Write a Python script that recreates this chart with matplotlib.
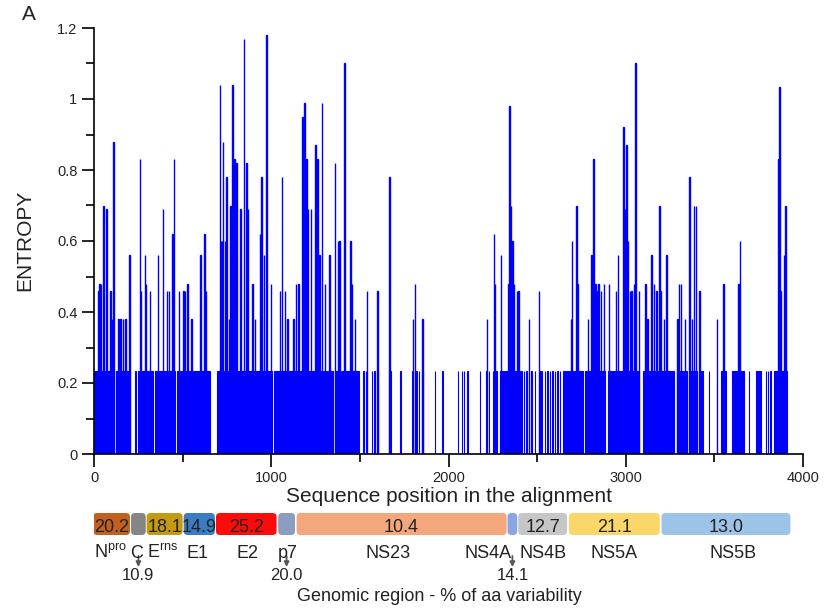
import matplotlib
matplotlib.use("Agg")
import matplotlib.pyplot as plt
from matplotlib.patches import FancyBboxPatch
from matplotlib.ticker import MultipleLocator, FormatStrFormatter

plt.rcParams['font.family'] = ['Liberation Sans', 'DejaVu Sans']
plt.rcParams['mathtext.fontset'] = 'custom'
plt.rcParams['mathtext.rm'] = 'Liberation Sans'
plt.rcParams['mathtext.it'] = 'Liberation Sans:italic'

# ---- entropy data ----
# sites sitting on the lowest entropy level, as runs start..end
base_level = 0.234
base_start = [0, 124, 231, 246, 320, 345, 466, 498, 564, 602, 630,
              692, 1015, 1162, 1307, 1331, 1358, 1396, 1421,
              1519, 1534, 1566, 1581, 1598, 1662, 1729, 1796, 1809, 1819, 1834, 1851,
              1924, 1966, 2054, 2074, 2087, 2106, 2176, 2214, 2227, 2251, 2255, 2261,
              2270, 2289, 2293, 2304, 2312, 2411, 2424, 2438, 2452, 2468, 2486,
              2508, 2524, 2543, 2558, 2571, 2586, 2599, 2614, 2627,
              2645, 2655, 2686, 2714, 2768, 2898, 3098, 3287, 3336, 3355, 3412,
              3468, 3536, 3601, 3638, 3693, 3737, 3789, 3802, 3815, 3835]
base_end = [112, 201, 238, 313, 333, 458, 490, 556, 594, 622, 654,
            1007, 1154, 1299, 1322, 1350, 1386, 1414, 1496,
            1521, 1536, 1568, 1583, 1601, 1674, 1731, 1799, 1812, 1821, 1836, 1854,
            1926, 1968, 2056, 2076, 2089, 2108, 2178, 2217, 2229, 2253, 2257, 2263,
            2272, 2291, 2296, 2306, 2404, 2413, 2426, 2444, 2454, 2470, 2488,
            2514, 2526, 2545, 2560, 2573, 2588, 2601, 2616, 2629,
            2649, 2679, 2706, 2756, 2884, 3072, 3275, 3328, 3347, 3404, 3436,
            3470, 3563, 3632, 3668, 3695, 3762, 3791, 3804, 3817, 3911]

# sites above the lowest level
peak_pos = [25, 30, 38, 53, 68, 91, 100, 109, 138, 147, 162, 175, 198, 257, 264,
            285, 291, 315, 360, 389, 411, 421, 440, 451, 477, 502, 511, 525, 549,
            600, 623, 630,
            709, 715, 720, 726, 738, 747, 760, 770, 781, 792, 802, 826, 845, 858,
            868, 894, 906, 934, 943, 958, 972, 996, 1047, 1058, 1075, 1091, 1125,
            1138, 1151, 1175, 1185, 1196, 1206, 1223, 1247, 1260, 1270, 1285, 1302,
            1326, 1358, 1374, 1383, 1411, 1445, 1453, 1472, 1538, 1599,
            1666, 1797, 1810, 1852, 2215, 2256, 2262, 2294, 2337, 2343, 2350, 2360,
            2369, 2384, 2393, 2453, 2510,
            2690, 2694, 2722, 2726, 2785, 2805, 2818, 2828, 2839, 2845, 2860, 2875,
            2903, 2943, 2954, 2986, 2995, 3004, 3010, 3023, 3032, 3046, 3055, 3072,
            3110, 3121, 3145, 3158, 3171, 3188, 3196, 3213, 3228, 3290, 3300, 3309,
            3334, 3358, 3371, 3384, 3394, 3415, 3512, 3550, 3635, 3644, 3860, 3865,
            3873, 3892, 3901]
peak_val = [0.46, 0.48, 0.48, 0.70, 0.69, 0.46, 0.38, 0.88, 0.38, 0.38, 0.38, 0.38, 0.56, 0.83, 0.46,
            0.56, 0.48, 0.46, 0.56, 0.69, 0.46, 0.46, 0.62, 0.83, 0.46, 0.46, 0.46, 0.48, 0.38,
            0.56, 0.62, 0.46,
            1.04, 0.60, 0.60, 0.88, 0.60, 0.78, 0.38, 0.70, 1.04, 0.83, 0.82, 0.69, 1.17, 0.82,
            0.69, 0.48, 0.38, 0.62, 0.78, 0.56, 1.18, 0.48, 0.46, 0.78, 0.46, 0.38, 0.38,
            0.48, 0.48, 0.95, 0.99, 0.83, 0.69, 0.69, 0.87, 0.83, 0.56, 0.99, 0.48,
            0.56, 0.82, 0.60, 0.60, 1.10, 0.60, 0.48, 0.38, 0.46, 0.46,
            0.78, 0.38, 0.48, 0.38, 0.38, 0.62, 0.48, 0.56, 0.48, 0.98, 0.70, 0.60,
            0.48, 0.46, 0.46, 0.38, 0.46,
            0.38, 0.60, 0.70, 0.48, 0.38, 0.56, 0.83, 0.48, 0.46, 0.48, 0.46, 0.48,
            0.48, 0.46, 0.56, 0.92, 0.69, 0.87, 0.60, 0.46, 0.46, 0.48, 1.10, 0.46,
            0.48, 0.38, 0.56, 0.48, 0.46, 0.70, 0.46, 0.38, 0.56, 0.38, 0.48, 0.48,
            0.38, 0.78, 0.38, 0.70, 0.70, 0.46, 0.38, 0.48, 0.48, 0.60, 0.83, 1.035,
            0.46, 0.56, 0.70]

# ---- genomic regions ----
region_labels = ['N$^{\\mathrm{pro}}$', 'C', 'E$^{\\mathrm{rns}}$', 'E1', 'E2', 'p7',
                 'NS23', 'NS4A', 'NS4B', 'NS5A', 'NS5B']
region_start = [-5, 209, 297, 506, 688, 1039, 1143, 2333, 2393, 2679, 3202]
region_end = [203, 292, 500, 682, 1030, 1134, 2328, 2388, 2669, 3192, 3929]
variability = [20.2, 10.9, 18.1, 14.9, 25.2, 20.0, 10.4, 14.1, 12.7, 21.1, 13.0]
value_inside = [True, False, True, True, True, False, True, False, True, True, True]
region_colors = ['#c2611f', '#858585', '#c59a12', '#3b7cc4', '#ff0a0a', '#8b9dbf',
                 '#f4a77c', '#8aa6e0', '#c6c6c6', '#fbd66a', '#9dc3e6']

BLUE = '#0000ff'
TXT = '#222222'
W, H = 838, 612

fig = plt.figure(figsize=(W / 100, H / 100), dpi=100)
ax = fig.add_axes([94 / W, 1 - 454 / H, 709 / W, 426 / H])

ax.bar(base_start, [base_level] * len(base_start),
       width=[e - s for s, e in zip(base_start, base_end)], align='edge',
       color=BLUE, edgecolor=BLUE, linewidth=0.8)
ax.bar(peak_pos, peak_val, width=3, align='edge',
       color=BLUE, edgecolor=BLUE, linewidth=1.0)

ax.set_xlim(0, 4000)
ax.set_ylim(0, 1.2)
for s in ['top', 'right']:
    ax.spines[s].set_visible(False)
for s in ['left', 'bottom']:
    ax.spines[s].set_linewidth(1.2)
ax.xaxis.set_major_locator(MultipleLocator(1000))
ax.xaxis.set_minor_locator(MultipleLocator(500))
ax.yaxis.set_major_locator(MultipleLocator(0.2))
ax.yaxis.set_minor_locator(MultipleLocator(0.1))
ax.xaxis.set_major_formatter(FormatStrFormatter('%g'))
ax.yaxis.set_major_formatter(FormatStrFormatter('%g'))
ax.tick_params(which='major', length=9, width=1.2, labelsize=10.5, colors='black',
               labelcolor=TXT, pad=3)
ax.tick_params(which='minor', length=6, width=1.2)

fig.text(449 / W, 1 - 497 / H, 'Sequence position in the alignment', fontsize=15,
         ha='center', va='center', color=TXT)
fig.text(25 / W, 1 - 240 / H, 'ENTROPY', fontsize=15, rotation=90,
         ha='center', va='center', color=TXT)
fig.text(29 / W, 1 - 15 / H, 'A', fontsize=15, ha='center', va='center', color=TXT)

# genome map under the axis; y in pixel rows of the figure
gax = fig.add_axes([94 / W, 0, 709 / W, 110 / H])
gax.set_xlim(0, 4000)
gax.set_ylim(612, 502)
gax.axis('off')

px_per_unit = 709 / 4000
rad = 4 / px_per_unit
name_x = [90, 241, 389, 584, 866, 1094, 1658, 2222, 2532, 2933, 3604]
for i in range(len(region_labels)):
    x0, x1 = region_start[i], region_end[i]
    gax.add_patch(FancyBboxPatch((x0, 513), x1 - x0, 22,
                                 boxstyle='round,pad=0,rounding_size=%g' % rad,
                                 mutation_aspect=px_per_unit,
                                 facecolor=region_colors[i], edgecolor='none'))
    xc = (x0 + x1) / 2
    if value_inside[i]:
        gax.text(xc, 531.5, '%.1f' % variability[i], fontsize=13, ha='center',
                 va='baseline', color=TXT)
    else:
        gax.annotate('', xy=(xc, 567), xytext=(xc, 556),
                     arrowprops=dict(arrowstyle='-|>', color='#555555', lw=1.3,
                                     mutation_scale=7, shrinkA=0, shrinkB=0))
        gax.text(xc, 580, '%.1f' % variability[i], fontsize=12, ha='center',
                 va='baseline', color=TXT)
    gax.text(name_x[i], 558, region_labels[i], fontsize=13, ha='center',
             va='baseline', color=TXT)

gax.text(1946, 601, 'Genomic region - % of aa variability', fontsize=13,
         ha='center', va='baseline', color=TXT)

fig.savefig('out.png', dpi=100)
